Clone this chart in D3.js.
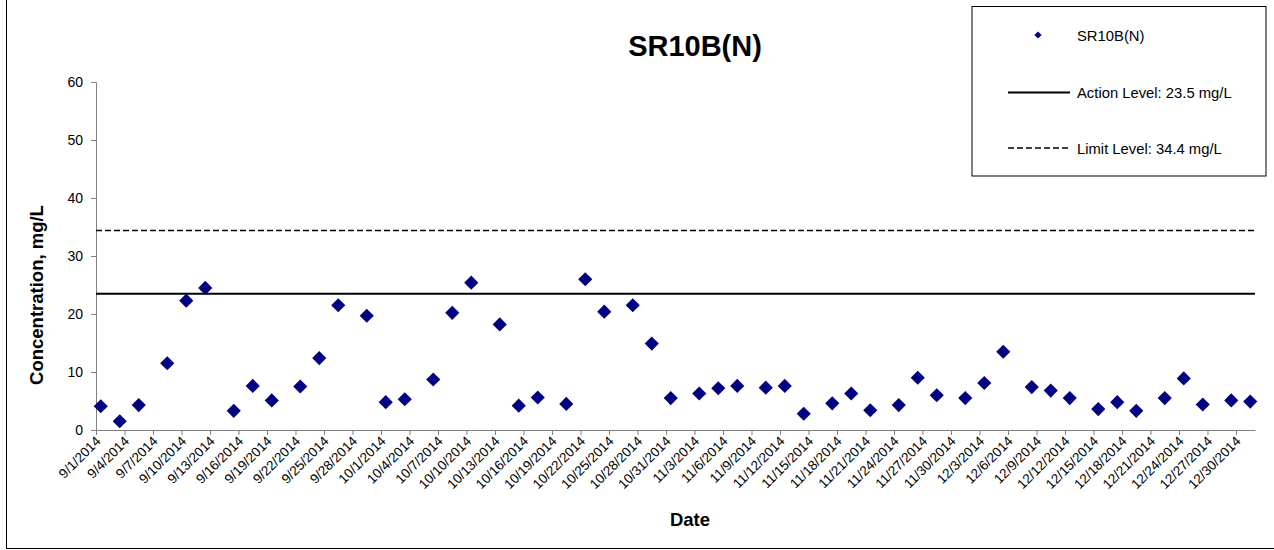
<!DOCTYPE html>
<html><head><meta charset="utf-8">
<script src="https://cdn.jsdelivr.net/npm/d3@7"></script>
<style>body{margin:0;background:#fff}svg{display:block}text{font-family:"Liberation Sans",Arial,sans-serif}</style>
</head><body><svg id="c" width="1274" height="550"></svg>
<script>
const title = "SR10B(N)";
const sampleDates = ["2014-09-01","2014-09-03","2014-09-05","2014-09-08","2014-09-10","2014-09-12","2014-09-15","2014-09-17","2014-09-19","2014-09-22","2014-09-24","2014-09-26","2014-09-29","2014-10-01","2014-10-03","2014-10-06","2014-10-08","2014-10-10","2014-10-13","2014-10-15","2014-10-17","2014-10-20","2014-10-22","2014-10-24","2014-10-27","2014-10-29","2014-10-31","2014-11-03","2014-11-05","2014-11-07","2014-11-10","2014-11-12","2014-11-14","2014-11-17","2014-11-19","2014-11-21","2014-11-24","2014-11-26","2014-11-28","2014-12-01","2014-12-03","2014-12-05","2014-12-08","2014-12-10","2014-12-12","2014-12-15","2014-12-17","2014-12-19","2014-12-22","2014-12-24","2014-12-26","2014-12-29","2014-12-31"];
const concentration = [4.1,1.5,4.3,11.5,22.3,24.5,3.3,7.6,5.1,7.5,12.4,21.5,19.7,4.8,5.3,8.7,20.2,25.4,18.2,4.2,5.6,4.5,26.0,20.4,21.5,14.9,5.5,6.3,7.2,7.6,7.3,7.6,2.8,4.6,6.3,3.4,4.3,9.0,6.0,5.5,8.1,13.5,7.4,6.8,5.5,3.6,4.8,3.3,5.5,8.9,4.4,5.1,4.9];
const xDomain = ["2014-09-01","2015-01-01"];
const xTickDates = ["2014-09-01","2014-09-04","2014-09-07","2014-09-10","2014-09-13","2014-09-16","2014-09-19","2014-09-22","2014-09-25","2014-09-28","2014-10-01","2014-10-04","2014-10-07","2014-10-10","2014-10-13","2014-10-16","2014-10-19","2014-10-22","2014-10-25","2014-10-28","2014-10-31","2014-11-03","2014-11-06","2014-11-09","2014-11-12","2014-11-15","2014-11-18","2014-11-21","2014-11-24","2014-11-27","2014-11-30","2014-12-03","2014-12-06","2014-12-09","2014-12-12","2014-12-15","2014-12-18","2014-12-21","2014-12-24","2014-12-27","2014-12-30"];
const yTicks = [0,10,20,30,40,50,60];
const actionLevel = 23.5;
const limitLevel = 34.4;
const legendLabels = ["SR10B(N)","Action Level: 23.5 mg/L","Limit Level: 34.4 mg/L"];

const parse = d3.utcParse("%Y-%m-%d");
const fmt = d3.utcFormat("%-m/%-d/%Y");
const svg = d3.select("#c");
const L = 96, R = 1255, T = 82, B = 430;
const x = d3.scaleUtc().domain(xDomain.map(parse)).range([L, R]);
const y = d3.scaleLinear().domain([0, 60]).range([B, T]);
const navy = "#000080", axisCol = "#808080";

// outer border
svg.append("rect").attr("x",6.5).attr("y",-2).attr("width",1280).attr("height",550.5)
  .attr("fill","none").attr("stroke","#000").attr("stroke-width",1);

// title
svg.append("text").attr("x",695).attr("y",56).attr("text-anchor","middle")
  .attr("font-size",29).attr("font-weight","bold").text(title);

// y axis
const ya = svg.append("g").attr("transform",`translate(${L},0)`)
  .call(d3.axisLeft(y).tickValues(yTicks).tickSize(5).tickPadding(8).tickFormat(d3.format("d")));
ya.select(".domain").attr("stroke",axisCol);
ya.selectAll(".tick line").attr("stroke",axisCol);
ya.selectAll("text").attr("font-size",14).attr("font-family","Liberation Sans, Arial").attr("fill","#000");

// x axis
const xa = svg.append("g").attr("transform",`translate(0,${B})`)
  .call(d3.axisBottom(x).tickValues(xTickDates.map(parse)).tickSize(5).tickFormat(fmt).tickSizeOuter(0));
xa.select(".domain").attr("stroke",axisCol);
xa.selectAll(".tick line").attr("stroke",axisCol);
xa.selectAll("text").attr("font-size",13.5).attr("font-family","Liberation Sans, Arial").attr("fill","#000")
  .attr("text-anchor","end").attr("dy",null).attr("y",null)
  .attr("transform","translate(5,12) rotate(-45)");

// level lines
svg.append("line").attr("x1",L).attr("x2",R).attr("y1",y(limitLevel)).attr("y2",y(limitLevel))
  .attr("stroke","#000").attr("stroke-width",1.5).attr("stroke-dasharray","6,3");
svg.append("line").attr("x1",L).attr("x2",R).attr("y1",y(actionLevel)).attr("y2",y(actionLevel))
  .attr("stroke","#000").attr("stroke-width",2);

// points (Excel date axis: centre of each day)
const diamond = d3.symbol().type(d3.symbolSquare).size(100);
svg.append("g").selectAll("path").data(sampleDates.map((d,i)=>({d:parse(d),v:concentration[i]})))
  .join("path").attr("d",diamond)
  .attr("transform",p=>`translate(${x(d3.utcHour.offset(p.d,12))},${y(p.v)}) rotate(45)`)
  .attr("fill",navy);

// axis titles
svg.append("text").attr("x",690).attr("y",526).attr("text-anchor","middle")
  .attr("font-size",18.5).attr("font-weight","bold").text("Date");
svg.append("text").attr("transform","translate(43,295) rotate(-90)").attr("text-anchor","middle")
  .attr("font-size",18.5).attr("font-weight","bold").text("Concentration, mg/L");

// legend
const lg = svg.append("g");
lg.append("rect").attr("x",972).attr("y",6.5).attr("width",294).attr("height",169.5)
  .attr("fill","#fff").attr("stroke","#000");
lg.append("path").attr("d",d3.symbol().type(d3.symbolSquare).size(26))
  .attr("transform","translate(1038,35) rotate(45)").attr("fill",navy);
lg.append("line").attr("x1",1008).attr("x2",1070).attr("y1",92.5).attr("y2",92.5).attr("stroke","#000").attr("stroke-width",2);
lg.append("line").attr("x1",1008).attr("x2",1070).attr("y1",148).attr("y2",148).attr("stroke","#000").attr("stroke-width",1.5).attr("stroke-dasharray","6,3");
[40.5,97.5,154].forEach((yy,i)=>{
  lg.append("text").attr("x",1077).attr("y",yy).attr("font-size",14.8).text(legendLabels[i]);
});
</script></body></html>
